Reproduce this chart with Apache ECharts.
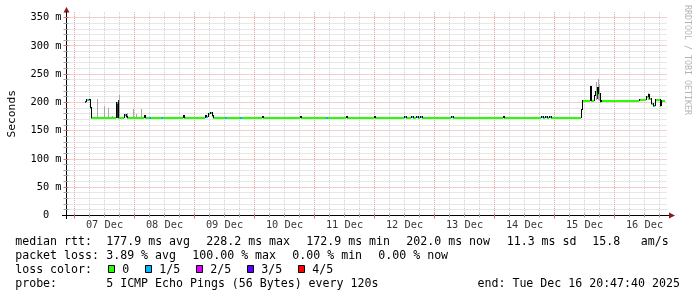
<!DOCTYPE html>
<html>
<head>
<meta charset="utf-8">
<script src="https://cdn.jsdelivr.net/npm/echarts@6/dist/echarts.min.js"></script>
<style>
html,body{margin:0;padding:0;background:#ffffff;}
#chart{width:697px;height:297px;}
</style>
</head>
<body>
<div id="chart"></div>
<script>
// ---------------- data ----------------
const END_TIME = Date.UTC(2025, 11, 16, 20, 47, 40);
const SPAN_HOURS = 240;
const START_TIME = END_TIME - SPAN_HOURS * 3600e3;
const FIRST_MIDNIGHT_H = (Date.UTC(2025, 11, 7) - START_TIME) / 3600e3;

const dayLabels = ['07 Dec', '08 Dec', '09 Dec', '10 Dec', '11 Dec', '12 Dec', '13 Dec', '14 Dec', '15 Dec', '16 Dec'];
const yTickValues = [0, 50, 100, 150, 200, 250, 300, 350];
const yTickLabels = ['0  ', '50 m', '100 m', '150 m', '200 m', '250 m', '300 m', '350 m'];

const lossColors = ['#26ff00', '#00b8ff', '#dd00ff', '#5e00ff', '#ff0000'];
const lossLabels = ['0', '1/5', '2/5', '3/5', '4/5'];

// median rtt (ms): run start (hours from start), value, loss level
const medH = [7.5, 7.9, 8.3, 8.9, 9.3, 9.7, 10.1, 20.1, 20.7, 23.1, 23.9, 24.5, 31.3, 31.7, 33.3, 33.9, 38.1, 38.9, 46.9, 47.3,
  55.5, 56.1, 56.7, 57.7, 58.3, 58.7, 63.7, 64.5, 69.7, 70.5, 78.5, 78.9, 93.7, 94.1, 104.1, 104.9, 112.1, 112.5, 123.3, 123.7,
  135.3, 135.9, 138.1, 138.7, 140.1, 140.7, 141.7, 142.3, 154.1, 154.7, 174.9, 175.3, 190.1, 190.7, 191.7, 192.3, 193.3, 193.9,
  205.9, 206.5, 209.7, 210.1, 211.1, 211.7, 212.3, 212.9, 213.5, 213.9, 214.5, 229.3, 232.1, 232.7, 233.3, 234.1, 234.9, 235.5,
  237.5, 238.1];
const medV = [201, 205, 205, 205, 204, 190, 172.9, 199, 172.9, 177, 175, 172.9, 175.5, 172.9, 172.9, 172.9, 172.9, 172.9, 175.5, 172.9,
  176, 175, 180, 181, 176, 172.9, 172.9, 172.9, 172.9, 172.9, 175, 172.9, 175, 172.9, 172.9, 172.9, 174.5, 172.9, 175, 172.9,
  173.5, 172.9, 173.5, 172.9, 173.5, 172.9, 173.5, 172.9, 175, 172.9, 175, 172.9, 173.5, 172.9, 173.5, 172.9, 173.5, 172.9,
  187, 203, 228.2, 203.5, 212, 218, 226, 215, 201, 203, 203, 205, 210, 214, 207, 198, 194, 204,
  193, 202];
const medLoss = [3, 2, 0, 1, 0, 0, 0, 1, 0, 1, 0, 0, 0, 0, 1, 0, 1, 0, 0, 0,
  2, 1, 0, 1, 0, 0, 1, 0, 1, 0, 0, 0, 0, 0, 1, 0, 0, 0, 0, 0,
  1, 0, 1, 0, 1, 0, 1, 0, 1, 0, 0, 0, 1, 0, 1, 0, 1, 0,
  0, 0, 1, 0, 0, 0, 1, 0, 0, 1, 0, 0, 0, 0, 0, 0, 1, 0,
  0, 0];
const medEndH = 239.5;

// smoke (ping spread) : hour, low ms, high ms
const smokeH  = [12.3, 15.1, 16.7, 18.4, 21.1, 24.3, 26.6, 27.9, 29.8, 31.7, 210.0, 211.8, 212.6, 213.2, 232.7];
const smokeLo = [173, 173, 173, 173, 173, 173, 173, 173, 173, 173, 203, 205, 205, 203, 204];
const smokeHi = [207, 193, 191, 176, 214, 182, 189, 179, 189, 177, 230, 236, 241, 232, 216];
const darkSmokeH  = [20.2, 20.6, 209.8, 212.2];
const darkSmokeLo = [173, 173, 203, 206];
const darkSmokeHi = [199, 205, 228, 226];

const statsRtt = ['177.9 ms avg', '228.2 ms max', '172.9 ms min', '202.0 ms now', '11.3 ms sd', '15.8', 'am/s'];
const statsLoss = ['3.89 % avg', '100.00 % max', '0.00 % min', '0.00 % now'];
const probeText = '5 ICMP Echo Pings (56 Bytes) every 120s';
const endText = 'end: Tue Dec 16 20:47:40 2025';
const watermark = 'RRDTOOL / TOBI OETIKER';

// ---------------- derived ----------------
const mono = "'DejaVu Sans Mono', 'Liberation Mono', monospace";
const MINOR = '#cfcfcf';
const MAJOR = '#e6a0a0';

const vgridData = [];
for (let k = 0; FIRST_MIDNIGHT_H + 6 * k < SPAN_HOURS; k++) {
  vgridData.push([FIRST_MIDNIGHT_H + 6 * k, k % 4 === 0 ? 1 : 0]);
}
const hgridData = [];
for (let v = 10; v <= 350; v += 10) hgridData.push([v, v % 50 === 0 ? 1 : 0]);

const medData = medH.map((h, i) => [h, i + 1 < medH.length ? medH[i + 1] : medEndH, medV[i], medLoss[i], i > 0 ? medV[i - 1] : medV[i]]);
const smokeData = smokeH.map((h, i) => [h, smokeLo[i], smokeHi[i]]);
const darkSmokeData = darkSmokeH.map((h, i) => [h, darkSmokeLo[i], darkSmokeHi[i]]);
const dayLabelData = dayLabels.map((l, i) => [FIRST_MIDNIGHT_H + 12 + 24 * i, 0]);

function renderVGrid(params, api) {
  const cs = params.coordSys;
  const major = api.value(1) === 1;
  const x = Math.floor(api.coord([api.value(0), 0])[0]) + 0.5;
  const bottom = cs.y + cs.height;
  return {
    type: 'group', children: [
      { type: 'line', shape: { x1: x, y1: cs.y, x2: x, y2: bottom }, style: { stroke: major ? MAJOR : MINOR, lineWidth: 1, lineDash: [1, 1] } },
      { type: 'line', shape: { x1: x, y1: bottom - 2, x2: x, y2: bottom + (major ? 3 : 2) }, style: { stroke: major ? '#d07070' : '#a0a0a0', lineWidth: 1 } }
    ]
  };
}
function renderHGrid(params, api) {
  const cs = params.coordSys;
  const major = api.value(1) === 1;
  const y = Math.floor(api.coord([0, api.value(0)])[1]) + 0.5;
  return {
    type: 'group', children: [
      { type: 'line', shape: { x1: cs.x + 1, y1: y, x2: cs.x + cs.width, y2: y }, style: { stroke: major ? MAJOR : MINOR, lineWidth: 1, lineDash: [1, 1] } },
      { type: 'line', shape: { x1: cs.x - 3, y1: y, x2: cs.x + 2, y2: y }, style: { stroke: major ? '#d07070' : '#a0a0a0', lineWidth: 1 } }
    ]
  };
}
function smokeRenderer(color) {
  return function (params, api) {
    const pl = api.coord([api.value(0), api.value(1)]);
    const ph = api.coord([api.value(0), api.value(2)]);
    const x = Math.floor(pl[0]);
    const yt = Math.round(ph[1]), yb = Math.round(pl[1]);
    return { type: 'rect', shape: { x: x, y: yt, width: 1, height: Math.max(1, yb - yt) }, style: { fill: color } };
  };
}
function renderMedian(params, api) {
  const h0 = api.value(0), h1 = api.value(1), v = api.value(2), loss = api.value(3), prev = api.value(4);
  const p0 = api.coord([h0, v]), p1 = api.coord([h1, v]);
  const x0 = Math.floor(p0[0]);
  const x1 = Math.max(x0 + 1, Math.floor(p1[0]));
  const r = Math.round(p0[1]);
  const children = [{ type: 'rect', shape: { x: x0, y: r - 1, width: x1 - x0, height: 2 }, style: { fill: lossColors[loss] } }];
  if (prev !== v) {
    const rp = Math.round(api.coord([h0, prev])[1]);
    children.push({ type: 'line', shape: { x1: x0 + 0.5, y1: Math.min(rp, r) - 1, x2: x0 + 0.5, y2: Math.max(rp, r) }, style: { stroke: '#000', lineWidth: 1 } });
  }
  return { type: 'group', children: children };
}

// ---------------- graphics (legend / decorations) ----------------
const LEG_FONT = 11.6;
function txt(x, y, text, extra) {
  return Object.assign({ type: 'text', x: x, y: y, silent: true, style: { text: text, font: LEG_FONT + 'px ' + mono, fill: '#000', verticalAlign: 'middle', align: 'left' } }, extra || {});
}
const rowY = [242, 256, 270, 284];
const graphics = [];
graphics.push(txt(15.2, rowY[0], 'median rtt:'));
[106.3, 206.3, 306.3, 406.3, 506.7, 592.3, 640.8].forEach((x, i) => graphics.push(txt(x, rowY[0], statsRtt[i])));
graphics.push(txt(15.2, rowY[1], 'packet loss:'));
[106.2, 192.3, 292.3, 378.3].forEach((x, i) => graphics.push(txt(x, rowY[1], statsLoss[i])));
graphics.push(txt(15.2, rowY[2], 'loss color:'));
const boxX = [108.5, 145.5, 196.5, 247.5, 298.5];
const boxLabelX = [122.2, 159.2, 210.2, 261.2, 312.2];
lossColors.forEach((c, i) => {
  graphics.push({ type: 'rect', silent: true, shape: { x: boxX[i], y: 265.5, width: 6, height: 7 }, style: { fill: c, stroke: '#000', lineWidth: 1 } });
  graphics.push(txt(boxLabelX[i], rowY[2], lossLabels[i]));
});
graphics.push(txt(15.2, rowY[3], 'probe:'));
graphics.push(txt(106.2, rowY[3], probeText));
graphics.push(txt(477.5, rowY[3], endText));
// watermark
graphics.push({ type: 'text', silent: true, x: 687.5, y: 60, rotation: -Math.PI / 2,
  style: { text: watermark, font: '8.3px ' + mono, fill: '#b4b4b4', align: 'center', verticalAlign: 'middle' } });
// axis extensions and arrows
graphics.push({ type: 'line', silent: true, shape: { x1: 62, y1: 215.5, x2: 670, y2: 215.5 }, style: { stroke: '#000', lineWidth: 1 } });
graphics.push({ type: 'line', silent: true, shape: { x1: 66.5, y1: 12, x2: 66.5, y2: 219 }, style: { stroke: '#000', lineWidth: 1 } });
graphics.push({ type: 'polygon', silent: true, shape: { points: [[669, 212.5], [669, 218.5], [675, 215.5]] }, style: { fill: '#8b1a1a' } });
graphics.push({ type: 'polygon', silent: true, shape: { points: [[63.5, 12.5], [69.5, 12.5], [66.5, 7]] }, style: { fill: '#8b1a1a' } });

// ---------------- chart ----------------
const chart = echarts.init(document.getElementById('chart'), null, { renderer: 'canvas' });
chart.setOption({
  animation: false,
  backgroundColor: '#ffffff',
  tooltip: { show: false },
  grid: { left: 66.5, top: 12.1, width: 600, height: 203.4, containLabel: false, outerBoundsMode: 'none' },
  xAxis: {
    type: 'value', min: 0, max: SPAN_HOURS,
    axisLine: { show: true, lineStyle: { color: '#000', width: 1 } },
    axisTick: { show: false }, axisLabel: { show: false }, splitLine: { show: false }
  },
  yAxis: {
    type: 'value', min: 0, max: 360, interval: 50,
    name: 'Seconds', nameLocation: 'middle', nameGap: 49, nameRotate: 90,
    nameTextStyle: { fontFamily: mono, fontSize: 11.3, color: '#000' },
    axisLine: { show: true, lineStyle: { color: '#000', width: 1 } },
    axisTick: { show: false },
    axisLabel: {
      margin: 5, fontFamily: mono, fontSize: 10.3, color: '#000',
      formatter: function (v) { const i = yTickValues.indexOf(v); return i >= 0 ? yTickLabels[i] : ''; }
    },
    splitLine: { show: false }, minorSplitLine: { show: false }
  },
  series: [
    { type: 'custom', name: 'vgrid', silent: true, z: 1, renderItem: renderVGrid, data: vgridData, clip: false },
    { type: 'custom', name: 'hgrid', silent: true, z: 1, renderItem: renderHGrid, data: hgridData, clip: false },
    { type: 'custom', name: 'smoke', silent: true, z: 2, renderItem: smokeRenderer('#a8a8a8'), data: smokeData },
    { type: 'custom', name: 'smokeDark', silent: true, z: 3, renderItem: smokeRenderer('#303030'), data: darkSmokeData },
    { type: 'custom', name: 'median rtt', silent: true, z: 4, renderItem: renderMedian, data: medData },
    {
      type: 'scatter', name: 'days', silent: true, z: 5, clip: false, symbolSize: 1,
      itemStyle: { color: 'rgba(0,0,0,0)' },
      data: dayLabelData,
      label: { show: true, position: 'bottom', distance: 4, fontFamily: mono, fontSize: 10.3, color: '#000',
        formatter: function (p) { return dayLabels[p.dataIndex]; } }
    }
  ],
  graphic: graphics
});
</script>
</body>
</html>
